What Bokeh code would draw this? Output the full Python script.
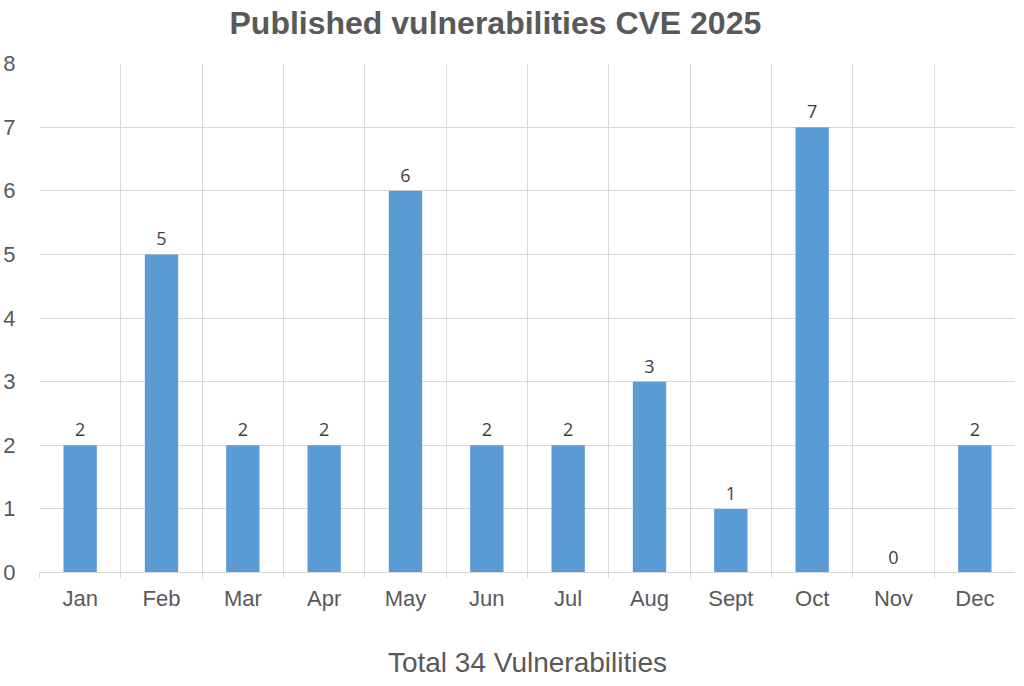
from bokeh.plotting import figure
from bokeh.models import ColumnDataSource, FixedTicker, LabelSet, Range1d
from bokeh.core.properties import value
from bokeh.embed import file_html
from bokeh.resources import INLINE

months = ["Jan", "Feb", "Mar", "Apr", "May", "Jun", "Jul", "Aug", "Sept", "Oct", "Nov", "Dec"]
counts = [2, 5, 2, 2, 6, 2, 2, 3, 1, 7, 0, 2]
y_ticks = [0, 1, 2, 3, 4, 5, 6, 7, 8]
title_text = "Published vulnerabilities CVE 2025"
x_title = "Total " + str(sum(counts)) + " Vulnerabilities"

centers = [i + 0.5 for i in range(len(months))]
src = ColumnDataSource(dict(x=centers, top=counts, label=[str(c) for c in counts]))

p = figure(width=1008, height=689, output_backend="svg", toolbar_location=None,
           x_range=Range1d(0, len(months)), y_range=Range1d(0, 8),
           frame_width=976, frame_height=509,
           min_border_left=32, min_border_right=0, min_border_top=74, min_border_bottom=100,
           title=title_text)
p.styles = {"margin-top": "-20px"}
p.outline_line_color = None
p.background_fill_color = "white"
p.border_fill_color = "white"

p.title.align = "left"
p.title.text_font = "Liberation Sans"
p.title.text_font_size = "32px"
p.title.text_font_style = "bold"
p.title.text_color = "#595959"
p.title.offset = 190
p.title.standoff = 45

p.vbar(x="x", top="top", width=0.41, source=src, fill_color="#5B9BD5", line_color=None)

labels = LabelSet(x="x", y="top", text="label", source=src, text_align="center",
                  text_baseline="alphabetic", y_offset=9, text_font=value("Open Sans"),
                  text_font_size=value("18px"), text_color="#404040")
p.add_layout(labels)

# x axis
p.xaxis.ticker = FixedTicker(ticks=centers, minor_ticks=list(range(len(months) + 1)))
p.xaxis.major_label_overrides = {c: m for c, m in zip(centers, months)}
p.xaxis.major_tick_line_color = None
p.xaxis.major_tick_out = 0
p.xaxis.major_tick_in = 0
p.xaxis.minor_tick_line_color = "#D9D9D9"
p.xaxis.minor_tick_out = 6
p.xaxis.minor_tick_in = 0
p.xaxis.axis_line_color = "#D9D9D9"
p.xaxis.major_label_text_font = "Liberation Sans"
p.xaxis.major_label_text_font_size = "22px"
p.xaxis.major_label_text_color = "#595959"
p.xaxis.major_label_standoff = 7
p.xaxis.axis_label = x_title
p.xaxis.axis_label_text_font = "Liberation Sans"
p.xaxis.axis_label_text_font_size = "28px"
p.xaxis.axis_label_text_font_style = "normal"
p.xaxis.axis_label_text_color = "#595959"
p.xaxis.axis_label_standoff = 33

# y axis
p.yaxis.ticker = FixedTicker(ticks=y_ticks)
p.yaxis.axis_line_color = None
p.yaxis.major_tick_line_color = None
p.yaxis.minor_tick_line_color = None
p.yaxis.major_label_text_font = "Liberation Sans"
p.yaxis.major_label_text_font_size = "22px"
p.yaxis.major_label_text_color = "#595959"
p.yaxis.major_label_standoff = 18

# grids
p.ygrid.ticker = FixedTicker(ticks=y_ticks)
p.ygrid.grid_line_color = "#D9D9D9"
p.ygrid.grid_line_width = 1
p.xgrid.ticker = FixedTicker(ticks=list(range(len(months))))
p.xgrid.grid_line_color = "#D9D9D9"
p.xgrid.grid_line_width = 1

open("out.html", "w").write(file_html(p, INLINE))
